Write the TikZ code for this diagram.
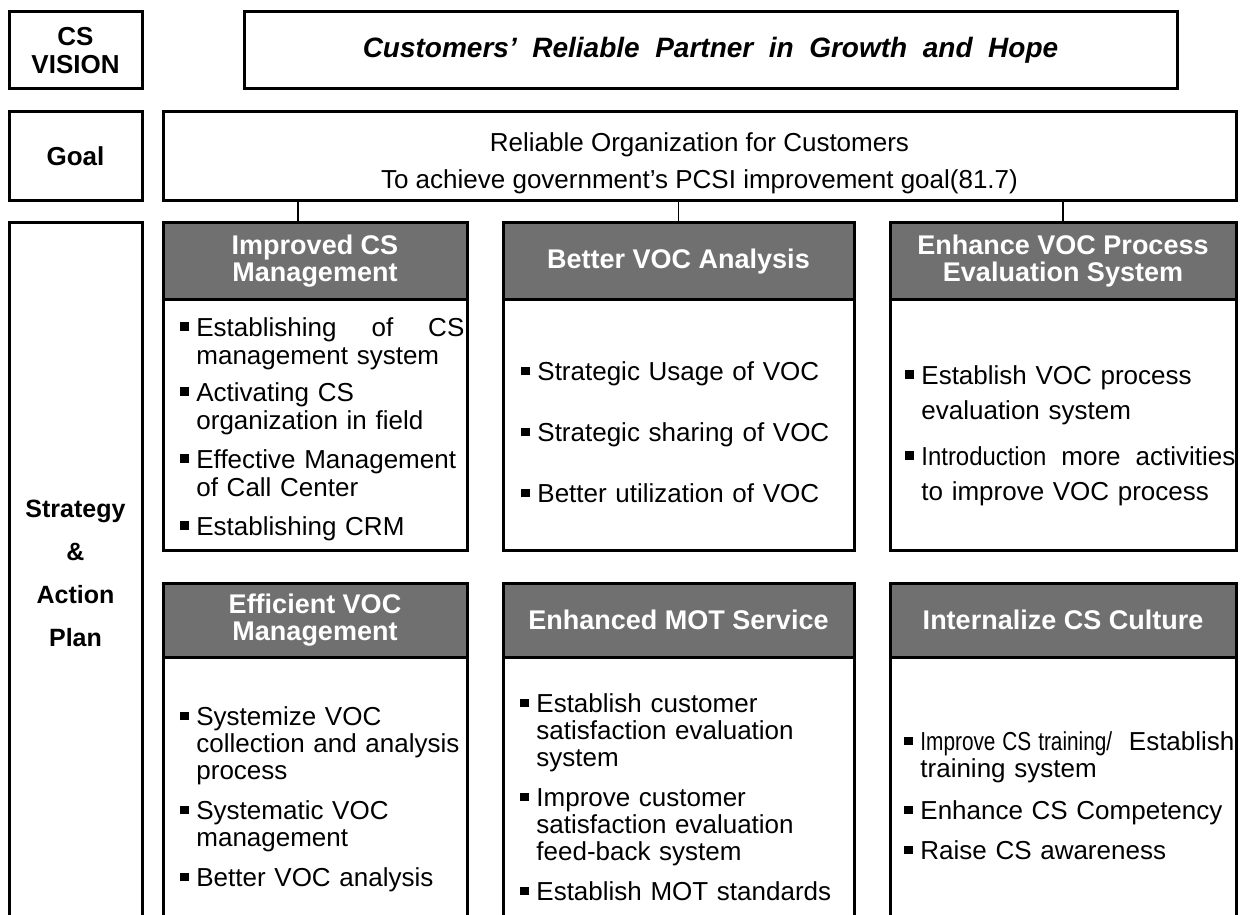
\documentclass[tikz,border=0pt]{standalone}
\usepackage{fontspec}
\usepackage{graphicx}
\setmainfont{Liberation Sans}
\usetikzlibrary{positioning, calc}

\definecolor{hdgray}{RGB}{112,112,112}
\hyphenpenalty=10000

% small square bullet and a list item with its lines set beside it
\newcommand{\bul}{\makebox[8pt][l]{\rule[0.4ex]{0.32em}{0.32em}}}
\newcommand{\itm}[2][5.5pt]{\par\vspace{#1}\noindent\bul\parbox[t]{\dimexpr\linewidth-8pt}{\strut#2\strut}}

\tikzset{
    box/.style={draw, line width=1.5pt, inner sep=0pt},
    label/.style={box, font=\bfseries\fontsize{13}{14}\selectfont, align=center},
    head/.style={box, fill=hdgray, text=white, align=center,
        font=\bfseries\fontsize{13.5}{13.5}\selectfont},
    items/.style={anchor=west, inner sep=0pt, align=left,
        font=\fontsize{13}{13.5}\selectfont},
    link/.style={line width=0.7pt}
}

\begin{document}
\begin{tikzpicture}[x=0.5pt, y=-0.5pt]

    \useasboundingbox (0,0) rectangle (1240,914);
    \clip (0,0) rectangle (1240,914);

    % Vision row
    \node[label, minimum width=66.5pt, minimum height=38.5pt] (vislab) at (75.5,50.5) {CS\\VISION};
    \node[box, minimum width=466.5pt, minimum height=38.5pt,
        font=\bfseries\itshape\fontsize{14}{14}\selectfont] (vision) at (710.5,50.5)
        {Customers' \ Reliable \ Partner \ in \ Growth \ and \ Hope};

    % Goal row
    \node[label, minimum width=66.5pt, minimum height=44.5pt] (goallab) at (75.5,156.5) {Goal};
    \node[box, minimum width=536.5pt, minimum height=44.5pt] (goal) at (699.5,156.5) {};
    \node[align=center, inner sep=0pt, font=\fontsize{13}{18.5}\selectfont] (goaltx) at (699.5,163)
        {Reliable Organization for Customers\\To achieve government's PCSI improvement goal(81.7)};

    % Strategy column label
    \node[label, minimum width=66.5pt, minimum height=350pt,
        font=\bfseries\fontsize{12.5}{21.5}\selectfont] (stratlab) at (75.5,573)
        {Strategy\\\&\\Action\\Plan};

    % First row of strategies
    \node[head, minimum width=152pt, minimum height=38.5pt] (hdA) at (315,261.5) {Improved CS\\Management};
    \node[head, minimum width=175.5pt, minimum height=38.5pt] (hdB) at (678.5,261.5) {Better VOC Analysis};
    \node[head, minimum width=173pt, minimum height=38.5pt] (hdC) at (1063,261.5) {Enhance VOC Process\\Evaluation System};

    \node[box, minimum width=152pt, minimum height=125pt] (bdA) at (315,425) {};
    \node[box, minimum width=175.5pt, minimum height=125pt] (bdB) at (678.5,425) {};
    \node[box, minimum width=173pt, minimum height=125pt] (bdC) at (1063,425) {};

    % Second row of strategies
    \node[head, minimum width=152pt, minimum height=37pt] (hdD) at (315,620) {Efficient VOC\\Management};
    \node[head, minimum width=175.5pt, minimum height=37pt] (hdE) at (678.5,620) {Enhanced MOT Service};
    \node[head, minimum width=173pt, minimum height=37pt] (hdF) at (1063,620) {Internalize CS Culture};

    \node[box, minimum width=152pt, minimum height=139pt] (bdD) at (315,796) {};
    \node[box, minimum width=175.5pt, minimum height=139pt] (bdE) at (678.5,796) {};
    \node[box, minimum width=173pt, minimum height=139pt] (bdF) at (1063,796) {};

    % Action items
    \node[items, text width=142pt, font=\fontsize{13}{14}\selectfont] (txA) at (180,426) {%
        \itm[0pt]{Establishing \hfill of \hfill CS\\management system}
        \itm[3.5pt]{Activating CS\\organization in field}
        \itm[4.5pt]{Effective Management\\of Call Center}
        \itm[4.5pt]{Establishing CRM}};
    \node[items, text width=166pt] (txB) at (521,432.5) {%
        \itm[0pt]{Strategic Usage of VOC}
        \itm[17pt]{Strategic sharing of VOC}
        \itm[17pt]{Better utilization of VOC}};
    \node[items, text width=165pt, font=\fontsize{13}{17.5}\selectfont] (txC) at (905,430) {%
        \itm[0pt]{Establish VOC process\\evaluation system}
        \itm[4.5pt]{\scalebox{0.92}[1]{Introduction} \hfill more \hfill activities\\to improve VOC process}};
    \node[items, text width=142pt] (txD) at (180,797) {%
        \itm[0pt]{Systemize VOC\\collection and analysis\\process}
        \itm{Systematic VOC\\management}
        \itm{Better VOC analysis}};
    \node[items, text width=166pt] (txE) at (520,797) {%
        \itm[0pt]{Establish customer\\satisfaction evaluation\\system}
        \itm{Improve customer\\satisfaction evaluation\\feed-back system}
        \itm{Establish MOT standards}};
    \node[items, text width=165pt] (txF) at (904,795.5) {%
        \itm[0pt]{\scalebox{0.8}[1]{Improve CS training/} \hfill Establish\\training system}
        \itm[6.5pt]{Enhance CS Competency}
        \itm[6.5pt]{Raise CS awareness}};

    % Links from goal down to the first row
    \draw[link] ([xshift=-8.5pt]hdA.north) -- ([xshift=-8.5pt]hdA.north |- goal.south);
    \draw[link] (hdB.north) -- (hdB.north |- goal.south);
    \draw[link] (hdC.north) -- (hdC.north |- goal.south);

\end{tikzpicture}
\end{document}
